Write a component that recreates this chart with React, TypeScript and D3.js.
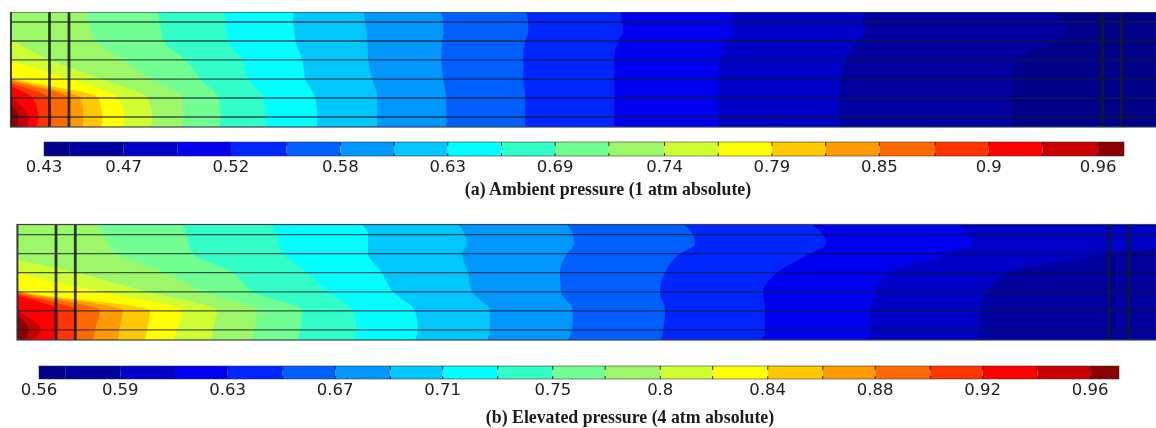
import * as d3 from 'd3';

// Band colours, coldest to hottest (one more than there are contour levels)
const bandColors = [
  '#000088', '#0000a0', '#0000c8', '#0000f0', '#0028ff', '#0060ff', '#0098ff',
  '#00c8ff', '#00ffff', '#30ffc8', '#70ff90', '#9cf868', '#cfff30', '#ffff00',
  '#ffc800', '#ff9a00', '#ff6a00', '#ff3400', '#ff0000', '#c80000', '#8a0000',
];

// Height across the channel (%), bottom to top; rows are the horizontal lines
const heightStations = [0, 8.7, 25.2, 41.7, 58.3, 74.8, 83, 91.3, 100];
const rowLines = [8.7, 25.2, 41.7, 58.3, 74.8, 91.3];

// ── (a) Ambient pressure ─────────────────────────────────────────────────────
const lengthA = 1146;
const spacersA = [0, 39, 58.5, 1092, 1111];
const minA = 0.43;
const maxA = 0.973;
const levelsA = [
  0.443, 0.47, 0.497, 0.524, 0.552, 0.579, 0.606, 0.633, 0.66, 0.687,
  0.714, 0.742, 0.769, 0.796, 0.823, 0.85, 0.878, 0.905, 0.932, 0.96,
];
const tickValuesA = [0.43, 0.47, 0.524, 0.579, 0.633, 0.687, 0.742, 0.796, 0.85, 0.905, 0.96];
const tickLabelsA = ['0.43', '0.47', '0.52', '0.58', '0.63', '0.69', '0.74', '0.79', '0.85', '0.9', '0.96'];
const titleA = '(a) Ambient pressure (1 atm absolute)';
// Axial position of each level's isoline at every height station
const contoursA = [
  [1002, 1002, 1002, 1003, 1008, 1047, 1060, 1053, 1043],
  [830, 829, 829, 831, 835, 847, 855, 853, 852],
  [708, 708, 708, 708, 710, 715, 724, 722, 720],
  [604, 604, 604, 604, 604, 608, 613, 612, 610],
  [515, 515, 515, 513, 513, 515, 518, 518, 515],
  [436, 436, 436, 433, 431, 432, 433, 433, 431],
  [367, 367, 367, 362, 358, 357, 356, 355, 353],
  [307, 307, 305, 295, 292, 285, 284, 283, 283],
  [255, 255, 253, 238, 232, 218, 216, 215, 214],
  [209, 210, 208, 190, 175, 153, 151, 149, 148],
  [172, 173, 172, 140, 113, 85, 81, 78, 76],
  [140, 142, 137, 90, 40, 2, -15, -30, -30],
  [114, 114, 108, 60, 0, -30, -30, -30, -30],
  [91, 92, 88, 5, -40, -40, -40, -40, -40],
  [72, 73, 70, 0, -40, -40, -40, -40, -40],
  [58, 58, 58, -5, -40, -40, -40, -40, -40],
  [40, 41, 38, -10, -40, -40, -40, -40, -40],
  [26, 28, 22, -15, -40, -40, -40, -40, -40],
  [17, 18, 2, -20, -40, -40, -40, -40, -40],
  [7, 8, -5, -20, -40, -40, -40, -40, -40],
];

// ── (b) Elevated pressure ────────────────────────────────────────────────────
const lengthB = 1139;
const spacersB = [0, 39, 58.3, 1092.3, 1112];
const minB = 0.559;
const maxB = 0.971;
const levelsB = [
  0.569, 0.59, 0.6105, 0.631, 0.652, 0.672, 0.693, 0.713, 0.734, 0.755,
  0.775, 0.796, 0.816, 0.837, 0.858, 0.878, 0.899, 0.919, 0.94, 0.96,
];
const tickValuesB = [0.559, 0.59, 0.631, 0.672, 0.713, 0.755, 0.796, 0.837, 0.878, 0.919, 0.96];
const tickLabelsB = ['0.56', '0.59', '0.63', '0.67', '0.71', '0.75', '0.8', '0.84', '0.88', '0.92', '0.96'];
const titleB = '(b) Elevated pressure (4 atm absolute)';
const contoursB = [
  [1200, 1200, 1200, 1200, 1200, 1200, 1200, 1200, 1200],
  [961, 962, 962, 970, 990, 1096, 1160, 1180, 1130],
  [851, 853, 853, 858, 871, 930, 956, 951, 943],
  [745, 748, 748, 746, 760, 793, 809, 806, 795],
  [644, 646, 648, 643, 648, 663, 678, 676, 666],
  [551, 555, 556, 544, 543, 550, 557, 556, 550],
  [470, 473, 473, 455, 451, 445, 450, 448, 441],
  [398, 401, 398, 376, 365, 351, 351, 351, 345],
  [336, 340, 336, 311, 291, 266, 262, 260, 253],
  [281, 283, 285, 236, 216, 176, 172, 170, 165],
  [235, 238, 240, 186, 148, 100, 92, 86, 80],
  [195, 196, 200, 130, 60, -20, -30, -30, -30],
  [156, 160, 165, 83, 3, -30, -30, -30, -30],
  [128, 130, 133, 5, -30, -30, -30, -30, -30],
  [101, 102, 106, 3, -30, -30, -30, -30, -30],
  [76, 78, 83, 0, -30, -30, -30, -30, -30],
  [58, 60, 60, -4, -30, -30, -30, -30, -30],
  [38, 41, 41, -8, -30, -30, -30, -30, -30],
  [16, 24, 3, -10, -30, -30, -30, -30, -30],
  [9, 12, -3, -10, -30, -30, -30, -30, -30],
];

type PanelProps = {
  id: string;
  box: { left: number; top: number; bottom: number };
  bar: { left: number; right: number; top: number; bottom: number };
  length: number;
  spacers: number[];
  contours: number[][];
  levels: number[];
  min: number;
  max: number;
  tickValues: number[];
  tickLabels: string[];
  title: string;
  titleX: number;
  titleY: number;
  labelY: number;
};

function Panel(p: PanelProps) {
  const x = d3.scaleLinear().domain([0, p.length]).range([p.box.left, 1156]);
  const y = d3.scaleLinear().domain([0, 100]).range([p.box.bottom, p.box.top]);
  const barX = d3.scaleLinear().domain([p.min, p.max]).range([p.bar.left, p.bar.right]);

  // Region left of an isoline is hotter than its level
  const area = d3.area<number>()
    .y((_, i) => y(heightStations[i]))
    .x0(x(-60))
    .x1(d => x(d))
    .curve(d3.curveMonotoneY);

  const edges = [p.min, ...p.levels, p.max];

  return (
    <g>
      <clipPath id={p.id}>
        <rect x={p.box.left} y={p.box.top} width={1156 - p.box.left} height={p.box.bottom - p.box.top} />
      </clipPath>
      <g clipPath={`url(#${p.id})`}>
        <rect x={p.box.left} y={p.box.top} width={1156 - p.box.left} height={p.box.bottom - p.box.top} fill={bandColors[0]} />
        {p.contours.map((c, k) => (
          <path key={k} d={area(c) ?? ''} fill={bandColors[k + 1]} />
        ))}
        {rowLines.map(h => (
          <line key={h} x1={x(0)} x2={1156} y1={y(h)} y2={y(h)} stroke="#10182a" strokeOpacity={0.72} strokeWidth={1.3} />
        ))}
        {p.spacers.map(s => (
          <line key={s} x1={x(s)} x2={x(s)} y1={y(0)} y2={y(100)} stroke="#141a20" strokeOpacity={0.85} strokeWidth={2.8} />
        ))}
      </g>
      <rect x={p.box.left} y={p.box.top} width={1160 - p.box.left} height={p.box.bottom - p.box.top} fill="none" stroke="#3a4250" strokeWidth={1.2} />

      {/* Barra de color */}
      {bandColors.map((c, i) => (
        <rect key={c} x={barX(edges[i])} y={p.bar.top} width={barX(edges[i + 1]) - barX(edges[i])} height={p.bar.bottom - p.bar.top} fill={c} />
      ))}
      <rect x={p.bar.left} y={p.bar.top} width={p.bar.right - p.bar.left} height={p.bar.bottom - p.bar.top} fill="none" stroke="#333" strokeOpacity={0.7} strokeWidth={0.8} />
      {p.levels.map(l => (
        <g key={l} stroke="#222" strokeWidth={0.9}>
          <line x1={barX(l)} x2={barX(l)} y1={p.bar.top} y2={p.bar.top + 4} />
          <line x1={barX(l)} x2={barX(l)} y1={p.bar.bottom - 3} y2={p.bar.bottom} />
        </g>
      ))}
      {p.tickValues.map((v, i) => (
        <text key={v} x={barX(v)} y={p.labelY} textAnchor="middle" fontFamily="'DejaVu Sans'" fontSize={16.5} fill="#222">
          {p.tickLabels[i]}
        </text>
      ))}
      <text x={p.titleX} y={p.titleY} textAnchor="middle" fontFamily="'Liberation Serif'" fontWeight="bold" fontSize={17.8} fill="#1c1c1c">
        {p.title}
      </text>
    </g>
  );
}

export default function App() {
  return (
    <svg width={1156} height={428} style={{ position: 'absolute', left: 0, top: 0, background: '#fff' }}>
      <defs>
        <filter id="soft" x="0" y="0" width="100%" height="100%">
          <feGaussianBlur stdDeviation="0.45" />
        </filter>
      </defs>
      <g filter="url(#soft)">
        <Panel
          id="clip-a"
          box={{ left: 10.5, top: 12, bottom: 127 }}
          bar={{ left: 44, right: 1124, top: 142, bottom: 156 }}
          length={lengthA} spacers={spacersA} contours={contoursA} levels={levelsA}
          min={minA} max={maxA} tickValues={tickValuesA} tickLabels={tickLabelsA}
          title={titleA} titleX={608} titleY={195} labelY={172}
        />
        <Panel
          id="clip-b"
          box={{ left: 17, top: 224.5, bottom: 340 }}
          bar={{ left: 39, right: 1119, top: 366, bottom: 379 }}
          length={lengthB} spacers={spacersB} contours={contoursB} levels={levelsB}
          min={minB} max={maxB} tickValues={tickValuesB} tickLabels={tickLabelsB}
          title={titleB} titleX={630} titleY={423} labelY={395}
        />
      </g>
    </svg>
  );
}
